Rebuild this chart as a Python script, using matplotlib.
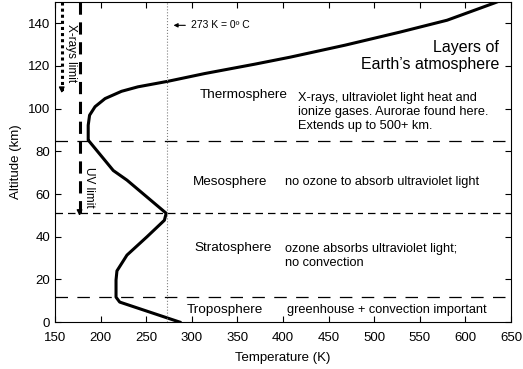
import numpy as np
import matplotlib.pyplot as plt

plt.rcParams['font.family'] = ['Liberation Sans', 'DejaVu Sans']

# temperature profile
temp_K = [287, 221, 217, 217, 218, 229, 251, 270, 272, 229, 214, 187, 186.5,
          186.5, 188, 194, 205, 223, 241, 274, 314, 369, 408, 468, 528, 580, 632, 635]
alt_km = [0, 9.4, 11.7, 19.7, 24, 31.4, 40, 47.7, 51, 66.5, 71, 85, 85.2,
          92.2, 96.9, 100.9, 104.7, 108.1, 110.2, 112.8, 116.4, 120.8, 124.1, 129.7,
          135.8, 141.4, 149.5, 150]

boundaries = [12, 51, 85]
freezing_K = 273
xray_T, xray_bottom = 157.5, 106
uv_T, uv_bottom = 177, 48.5

layers = ['Troposphere', 'Stratosphere', 'Mesosphere', 'Thermosphere']
layer_T = [295, 303.5, 301, 309]
layer_alt = [5.6, 34.6, 65.5, 106.3]
notes = ['greenhouse + convection important',
         'ozone absorbs ultraviolet light;\nno convection',
         'no ozone to absorb ultraviolet light',
         'X-rays, ultraviolet light heat and\nionize gases. Aurorae found here.\nExtends up to 500+ km.']
note_T = [404, 402, 402, 416]
note_alt = [5.6, 30.9, 65.5, 98.3]

fig = plt.figure(figsize=(5.23, 3.69), dpi=100)
ax = fig.add_axes([0.105, 0.127, 0.872, 0.868])

ax.plot(temp_K, alt_km, color='black', lw=2.2, solid_joinstyle='round')

ax.axhline(boundaries[0], color='black', lw=0.9, dashes=(10, 7.5))
ax.axhline(boundaries[1], color='black', lw=0.9, dashes=(6, 4))
ax.axhline(boundaries[2], color='black', lw=0.9, dashes=(10, 7.5))
ax.axvline(freezing_K, color='gray', lw=0.8, ls=':')

ax.plot([xray_T, xray_T], [150, xray_bottom + 2], color='black', lw=2.2, ls=(0, (1, 1)))
ax.annotate('', xy=(xray_T, xray_bottom), xytext=(xray_T, xray_bottom + 4),
            arrowprops=dict(arrowstyle='-|>', color='black', lw=1, mutation_scale=8))
ax.plot([uv_T, uv_T], [150, uv_bottom + 2], color='black', lw=2.2, dashes=(4, 2.5))
ax.annotate('', xy=(uv_T, uv_bottom), xytext=(uv_T, uv_bottom + 4),
            arrowprops=dict(arrowstyle='-|>', color='black', lw=1, mutation_scale=8))
ax.text(xray_T + 10, 126, 'X-rays limit', rotation=-90, ha='center', va='center', fontsize=8.5)
ax.text(uv_T + 10, 63, 'UV limit', rotation=-90, ha='center', va='center', fontsize=8.5)

ax.annotate('', xy=(freezing_K + 4, 139), xytext=(freezing_K + 23, 139),
            arrowprops=dict(arrowstyle='-|>', color='black', lw=0.8, mutation_scale=6))
ax.text(freezing_K + 26, 139, '273 K = 0º C', va='center', fontsize=7.5)

ax.text(637, 124.5, "Layers of\nEarth’s atmosphere", ha='right', va='center',
        fontsize=11.5, linespacing=1.15)

for name, t, a in zip(layers, layer_T, layer_alt):
    ax.text(t, a, name, fontsize=9.7, va='center')
for note, t, a in zip(notes, note_T, note_alt):
    ax.text(t, a, note, fontsize=9.2, va='center', linespacing=1.25)

ax.set_xlim(150, 650)
ax.set_ylim(0, 150)
ax.set_xticks(np.arange(150, 651, 50))
ax.set_yticks(np.arange(0, 141, 20))
ax.tick_params(direction='in', top=True, right=True, labelsize=9.5, length=4)
ax.tick_params(axis='x', pad=7)
ax.set_xlabel('Temperature (K)', fontsize=9.5, labelpad=6)
ax.set_ylabel('Altitude (km)', fontsize=9.5)

fig.savefig('out.png', dpi=100)
